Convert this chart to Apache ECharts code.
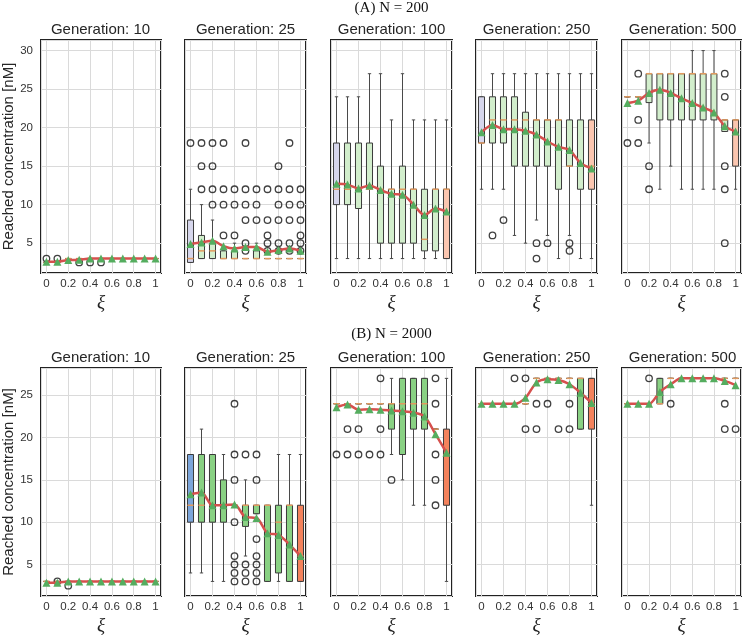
<!DOCTYPE html>
<html>
<head>
<meta charset="utf-8">
<title>Reached concentration</title>
<script src="https://cdn.jsdelivr.net/npm/echarts@6/dist/echarts.min.js"></script>
<style>
  html, body { margin: 0; padding: 0; background: #fff; }
  #chart { width: 744px; height: 636px; }
</style>
</head>
<body>
<div id="chart"></div>
<script>
// xi values (x categories) and generations
const xi = [0, 0.1, 0.2, 0.3, 0.4, 0.5, 0.6, 0.7, 0.8, 0.9, 1];
const generations = [10, 25, 100, 250, 500];
const rowTitles = ["(A) N = 200", "(B) N = 2000"];

// box data: [min whisker, Q1, median, Q3, max whisker]
// ---- (A) N = 200 ----
const a10Box = [[2.5,2.5,2.5,2.5,2.5],[2.5,2.5,2.5,2.5,2.5],[3,3,3,3,3],[3,3,3,3,3],[3,3,3,3,3],[3,3,3,3,3],
  [3,3,3,3,3],[3,3,3,3,3],[3,3,3,3,3],[3,3,3,3,3],[3,3,3,3,3]];
const a10Mean = [2.6, 2.6, 2.8, 2.85, 3, 3, 3, 3, 3, 3, 3];
const a10Out = [[0,3],[0.1,3],[0.3,2.5],[0.4,2.5],[0.5,2.5]];

const a25Box = [[2.5,2.5,3,8,12],[3,3,4,6,10],[3,3,4,5,8],[3,3,3,4,4],[3,3,3,4,5],[3,3,3,3,3],
  [3,3,3,4,5],[3,3,3,3,3],[3,3,3,3,3],[3,3,3,3,3],[3,3,3,3,3]];
const a25Mean = [4.9, 5.1, 5.3, 4.6, 4.3, 4.5, 4.5, 3.9, 4.1, 4.3, 4.0];
const a25Out = [[0,18],[0.1,18],[0.1,15],[0.1,12],[0.2,18],[0.2,15],[0.2,12],[0.2,10],
  [0.3,18],[0.3,12],[0.3,10],[0.3,6],[0.4,12],[0.4,10],[0.4,6],
  [0.5,18],[0.5,12],[0.5,10],[0.5,8],[0.5,5],[0.5,4],[0.6,12],[0.6,10],[0.6,8],
  [0.7,12],[0.7,8],[0.7,6],[0.7,5],[0.7,4],[0.8,15],[0.8,12],[0.8,10],[0.8,8],[0.8,5],[0.8,4],
  [0.9,18],[0.9,12],[0.9,10],[0.9,8],[0.9,5],[0.9,4],[1,12],[1,10],[1,8],[1,6],[1,5],[1,4]];

const a100Box = [[3,10,12,18,24],[3,10,12,18,24],[3,9.5,12,18,24],[3,12,12,18,27],[3,5,12,15,27],[3,5,12,12,21],
  [3,5,12,15,27],[3,5,12,12,21],[3,4,5.5,12,21],[3,4,12,12,21],[3,3,12,12,21]];
const a100Mean = [12.7, 12.6, 12.1, 12.5, 11.9, 11.4, 11.3, 10.0, 8.65, 9.5, 9.1];
const a100Out = [];

const a250Box = [[12,18,18,24,24],[12,18,21,24,27],[12,18,21,24,27],[6,15,21,24,27],[5,15,21,22,27],[8,15,21,21,27],
  [6,15,21,21,27],[3,12,21,21,27],[6,15,15,21,27],[3,12,15,21,27],[3,12,15,21,27]];
const a250Mean = [19.4, 20.35, 19.8, 19.8, 19.6, 19.1, 18.2, 17.5, 17.1, 15.4, 14.7];
const a250Out = [[0.1,6],[0.2,8],[0.5,5],[0.5,3],[0.6,5],[0.8,5],[0.8,4]];

const a500Box = [[24,24,24,24,24],[24,24,24,24,24],[18,23.25,27,27,27],[12,21,27,27,27],[15,21,27,27,27],[12,21,27,27,27],
  [12,21,27,27,30],[12,21,27,27,30],[12,21,27,27,30],[19.5,19.5,21,21,21],[12,15,21,21,21]];
const a500Mean = [23.2, 23.5, 24.5, 24.9, 24.5, 23.8, 23.2, 22.6, 21.95, 20.2, 19.5];
const a500Out = [[0,18],[0.1,27],[0.1,21],[0.1,18],[0.2,15],[0.2,12],
  [0.9,27],[0.9,24],[0.9,15],[0.9,12],[0.9,5]];

// ---- (B) N = 2000 ----
const b10Box = [[3,3,3,3,3],[3,3,3,3,3],[3,3,3,3,3],[3,3,3,3,3],[3,3,3,3,3],[3,3,3,3,3],
  [3,3,3,3,3],[3,3,3,3,3],[3,3,3,3,3],[3,3,3,3,3],[3,3,3,3,3]];
const b10Mean = [2.85, 2.85, 3, 3, 3, 3, 3, 3, 3, 3, 3];
const b10Out = [[0.1,3],[0.2,2.5]];

const b25Box = [[4,10,12,18,18],[4,10,12,18,21],[3,10,12,18,18],[3,10,12,15,18],[12,12,12,12,12],[6,9.5,12,12,15],
  [11,11,12,12,12],[3,3,12,12,12],[3,4,10,12,18],[3,3,12,12,18],[3,3,6,12,18]];
const b25Mean = [13.3, 13.5, 12.0, 12.0, 12.1, 10.6, 10.5, 8.7, 8.5, 7.35, 6.0];
const b25Out = [[0.4,24],[0.4,18],[0.4,15],[0.4,10],[0.4,6],[0.4,5],[0.4,4],[0.4,3],
  [0.5,18],[0.5,5],[0.5,4],[0.5,3],[0.6,18],[0.6,15],[0.6,8],[0.6,6],[0.6,5],[0.6,4],[0.6,3]];

const b100Box = [[24,24,24,24,24],[24,24,24,24,24],[24,24,24,24,24],[24,24,24,24,24],[24,24,24,24,24],[18,21,24,24,27],
  [15,18,24,27,27],[12,21,24,27,27],[12,21,24,27,27],[21,21,21,21,21],[3,12,18,21,27]];
const b100Mean = [23.6, 23.9, 23.3, 23.35, 23.3, 23.2, 23.1, 22.95, 22.5, 20.4, 18.2];
const b100Out = [[0,18],[0.1,21],[0.1,18],[0.2,21],[0.2,18],[0.3,18],[0.4,27],[0.4,21],[0.4,18],
  [0.5,15],[0.9,27],[0.9,24],[0.9,18],[0.9,15],[0.9,12]];

const b250Box = [[24,24,24,24,24],[24,24,24,24,24],[24,24,24,24,24],[24,24,24,24,24],[24,24,24,24,24],[27,27,27,27,27],
  [27,27,27,27,27],[27,27,27,27,27],[27,27,27,27,27],[21,21,27,27,27],[12,21,24,27,27]];
const b250Mean = [24, 24, 24, 24, 24.7, 26.5, 26.9, 26.8, 26.3, 25.3, 24.1];
const b250Out = [[0.3,27],[0.4,27],[0.4,21],[0.5,24],[0.5,21],[0.6,24],[0.7,21],[0.8,24],[0.8,21]];

const b500Box = [[24,24,24,24,24],[24,24,24,24,24],[24,24,24,24,24],[24,24,24,27,27],[27,27,27,27,27],[27,27,27,27,27],
  [27,27,27,27,27],[27,27,27,27,27],[27,27,27,27,27],[27,27,27,27,27],[27,27,27,27,27]];
const b500Mean = [24, 24, 24, 25.4, 26.3, 27, 27, 27, 27, 26.7, 26.2];
const b500Out = [[0.2,27],[0.4,24],[0.9,24],[0.9,21],[1,21]];

const panelData = [
  [[a10Box, a10Mean, a10Out], [a25Box, a25Mean, a25Out], [a100Box, a100Mean, a100Out], [a250Box, a250Mean, a250Out], [a500Box, a500Mean, a500Out]],
  [[b10Box, b10Mean, b10Out], [b25Box, b25Mean, b25Out], [b100Box, b100Mean, b100Out], [b250Box, b250Mean, b250Out], [b500Box, b500Mean, b500Out]]
];

// layout
const lefts = [40, 185, 331, 476, 622];
const panelW = 121;
const rowTop = [40, 368];
const rowH = [233, 232];
const rowRange = [[1.125, 31.375], [1.275, 28.225]];
const rowFill = [["#d6d6ec", "#d2eecc", "#fbc6b0"], ["#7ca5da", "#89d183", "#f4825c"]];
const sans = "Liberation Sans, Arial, sans-serif";
const serif = "Liberation Serif, Times New Roman, serif";

function renderBox(params, api) {
  const x = api.value(0);
  const lo = api.coord([x, api.value(1)]);
  const q1 = api.coord([x, api.value(2)]);
  const md = api.coord([x, api.value(3)]);
  const q3 = api.coord([x, api.value(4)]);
  const hi = api.coord([x, api.value(5)]);
  const half = api.size([0.055, 0])[0] / 2;
  const cap = half * 0.55;
  const cx = lo[0];
  const wl = { stroke: "#4a4a4a", lineWidth: 1 };
  return {
    type: "group",
    children: [
      { type: "line", shape: { x1: cx, y1: lo[1], x2: cx, y2: q1[1] }, style: wl },
      { type: "line", shape: { x1: cx, y1: q3[1], x2: cx, y2: hi[1] }, style: wl },
      { type: "line", shape: { x1: cx - cap, y1: lo[1], x2: cx + cap, y2: lo[1] }, style: wl },
      { type: "line", shape: { x1: cx - cap, y1: hi[1], x2: cx + cap, y2: hi[1] }, style: wl },
      { type: "rect", shape: { x: cx - half, y: q3[1], width: half * 2, height: q1[1] - q3[1] },
        style: { fill: api.visual("color"), stroke: "#3a3a3a", lineWidth: 1 } },
      { type: "line", shape: { x1: cx - half, y1: md[1], x2: cx + half, y2: md[1] },
        style: { stroke: "#e39a5e", lineWidth: 1.5 } }
    ]
  };
}

const grids = [], xAxes = [], yAxes = [], series = [], titles = [];
let k = 0;
for (let r = 0; r < 2; r++) {
  titles.push({
    text: rowTitles[r], left: 391.5, top: r === 0 ? 1 : 327, textAlign: "center", padding: 0,
    textStyle: { fontFamily: serif, fontSize: 15, fontWeight: "normal", color: "#111" }
  });
  for (let c = 0; c < 5; c++) {
    const [boxes, means, outs] = panelData[r][c];
    const fill = rowFill[r];
    grids.push({
      left: lefts[c], top: rowTop[r], width: panelW, height: rowH[r],
      show: true, borderColor: "#222", borderWidth: 2, backgroundColor: "transparent"
    });
    titles.push({
      text: "Generation: " + generations[c], left: lefts[c] + panelW / 2, top: rowTop[r] - 18,
      textAlign: "center", padding: 0,
      textStyle: { fontFamily: sans, fontSize: 15, fontWeight: "normal", color: "#262626" }
    });
    xAxes.push({
      gridIndex: k, type: "value", min: -0.05, max: 1.05,
      axisLine: { show: false }, axisTick: { show: false },
      axisLabel: {
        color: "#333", fontFamily: sans, fontSize: 11.5, margin: 5,
        formatter: v => {
          const t = Math.round(v * 10);
          if (Math.abs(v * 10 - t) > 1e-6 || t % 2 !== 0) return "";
          return String(t / 10);
        }
      },
      splitLine: { show: true, lineStyle: { color: "#dadada", width: 1 } },
      name: "ξ", nameLocation: "middle", nameGap: 20,
      nameTextStyle: { fontFamily: serif, fontStyle: "italic", fontSize: 19, color: "#222" }
    });
    yAxes.push({
      gridIndex: k, type: "value", min: rowRange[r][0], max: rowRange[r][1],
      axisLine: { show: false }, axisTick: { show: false },
      axisLabel: {
        show: c === 0, color: "#333", fontFamily: sans, fontSize: 11.5, margin: 8,
        formatter: v => (Math.abs(v % 5) < 1e-9 && v > 0) ? String(v) : ""
      },
      splitLine: { show: true, lineStyle: { color: "#dadada", width: 1 } },
      name: c === 0 ? "Reached concentration [nM]" : "", nameLocation: "middle", nameGap: 25,
      nameTextStyle: { fontFamily: sans, fontSize: 15, color: "#262626" }
    });
    series.push({
      type: "custom", xAxisIndex: k, yAxisIndex: k, z: 2,
      renderItem: renderBox,
      encode: { x: 0, y: [1, 2, 3, 4, 5] },
      data: boxes.map((b, i) => ({
        value: [xi[i]].concat(b),
        itemStyle: { color: i === 0 ? fill[0] : (i === xi.length - 1 ? fill[2] : fill[1]) }
      }))
    });
    series.push({
      type: "scatter", xAxisIndex: k, yAxisIndex: k, z: 3,
      symbol: "circle", symbolSize: 6.5,
      itemStyle: { color: "rgba(255,255,255,0)", borderColor: "#111", borderWidth: 1.3 },
      data: outs
    });
    series.push({
      type: "line", xAxisIndex: k, yAxisIndex: k, z: 4,
      smooth: 0.3, symbol: "triangle", symbolSize: 8,
      lineStyle: { color: "#d6504d", width: 2.5 },
      itemStyle: { color: "#55ad5f" },
      data: xi.map((x, i) => [x, means[i]])
    });
    k++;
  }
}

const chart = echarts.init(document.getElementById("chart"));
chart.setOption({
  animation: false,
  backgroundColor: "#fff",
  title: titles,
  grid: grids,
  xAxis: xAxes,
  yAxis: yAxes,
  series: series
});
</script>
</body>
</html>
